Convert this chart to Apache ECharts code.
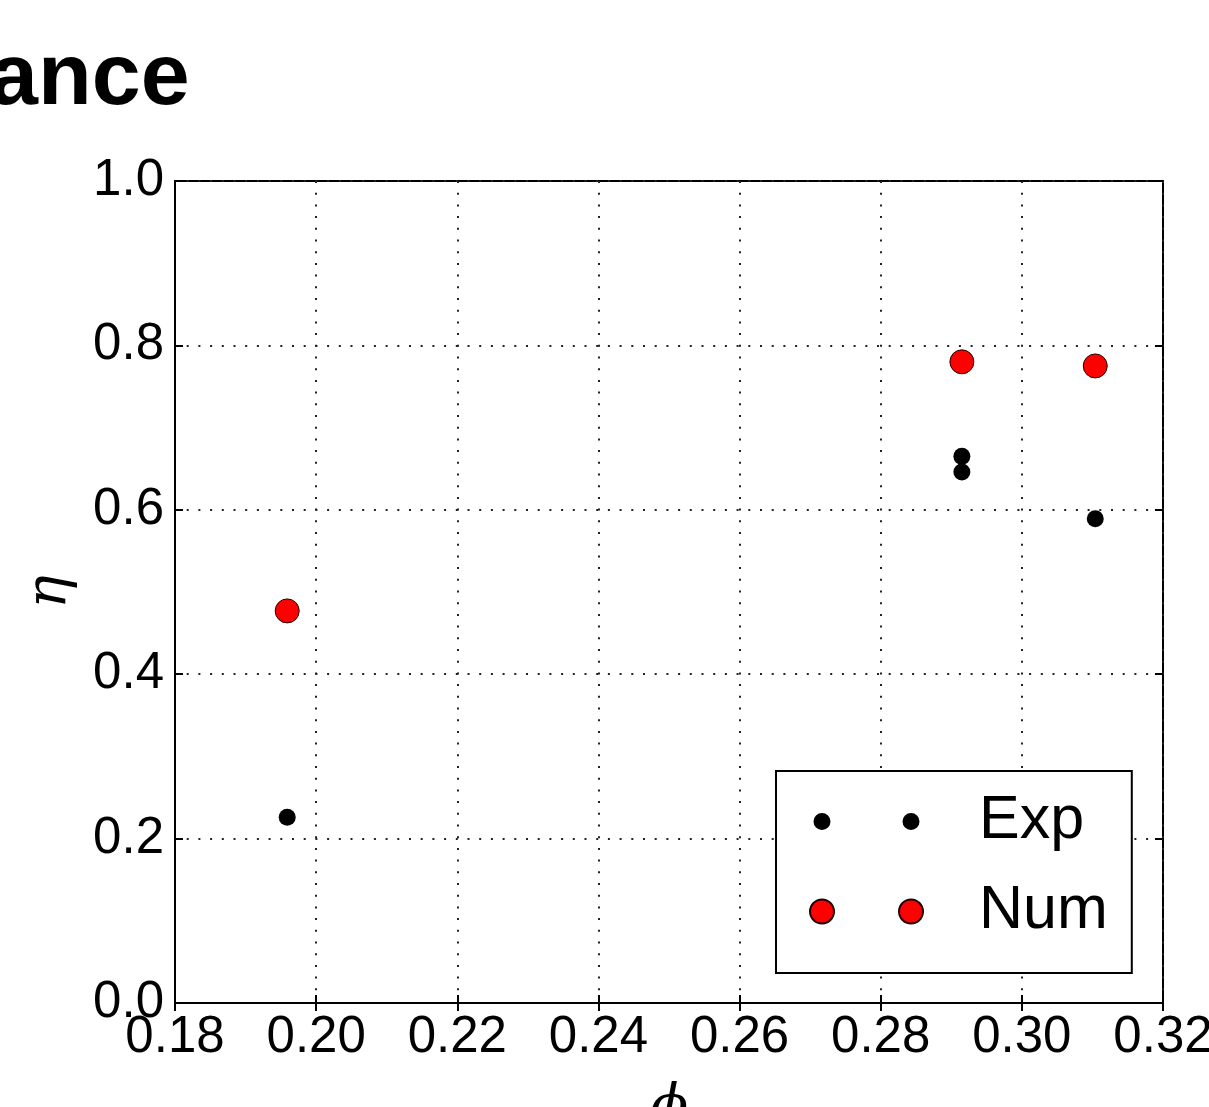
<!DOCTYPE html>
<html>
<head>
<meta charset="utf-8">
<script src="https://cdn.jsdelivr.net/npm/echarts@6/dist/echarts.min.js"></script>
<style>
  html, body { margin: 0; padding: 0; background: #fff; }
  #chart { width: 1209px; height: 1107px; }
</style>
</head>
<body>
<div id="chart"></div>
<script>
// Measured efficiency eta against volume fraction phi
const phiExp = [0.1959, 0.2915, 0.2915, 0.3104];
const etaExp = [0.226, 0.665, 0.646, 0.589];
// Simulated efficiency
const phiNum = [0.1959, 0.2915, 0.3104];
const etaNum = [0.477, 0.780, 0.775];

const xTicks = { min: 0.18, max: 0.32, step: 0.02 };
const yTicks = { min: 0.0, max: 1.0, step: 0.2 };

const seriesNames = ['Exp', 'Num'];
const titleText = 'ance';

const FONT = 'Liberation Sans, Arial, sans-serif';

function pairs(xs, ys) { return xs.map((x, i) => [x, ys[i]]); }

// legend icons: two markers per entry, bounding box padded to 164x24
const expIcon = 'path://M0,0M164,24M3.5,12a8.5,8.5 0 1,0 17,0a8.5,8.5 0 1,0 -17,0ZM92.5,12a8.5,8.5 0 1,0 17,0a8.5,8.5 0 1,0 -17,0Z';
const numIcon = 'path://M0,0M164,24M0,12a12,12 0 1,0 24,0a12,12 0 1,0 -24,0ZM89,12a12,12 0 1,0 24,0a12,12 0 1,0 -24,0Z';

const chart = echarts.init(document.getElementById('chart'), null, { renderer: 'canvas' });

const gridLine = { show: true, lineStyle: { color: '#222', width: 2, type: [2, 9.7] } };
const tickIn = { show: true, inside: true, length: 8, lineStyle: { color: '#000', width: 2 } };

chart.setOption({
  backgroundColor: '#fff',
  animation: false,
  graphic: [{
    type: 'text',
    left: -11,
    top: 36,
    style: {
      text: titleText,
      font: 'bold 88px ' + FONT,
      fill: '#000'
    }
  }],
  grid: {
    left: 175, top: 181, right: 46, bottom: 104,
    outerBoundsMode: 'none',
    containLabel: false,
    show: true, borderColor: '#000', borderWidth: 2, backgroundColor: 'transparent'
  },
  legend: {
    orient: 'vertical',
    left: 776, top: 771,
    padding: [20, 24, 31, 33],
    itemGap: 29,
    itemWidth: 164,
    itemHeight: 24,
    selectedMode: false,
    backgroundColor: '#fff',
    borderColor: '#000',
    borderWidth: 2,
    borderRadius: 0,
    textStyle: { fontFamily: FONT, fontSize: 61, lineHeight: 60, color: '#000', padding: 0 },
    data: [
      { name: seriesNames[0], icon: expIcon },
      { name: seriesNames[1], icon: numIcon }
    ]
  },
  xAxis: [{
    type: 'value',
    min: xTicks.min, max: xTicks.max, interval: xTicks.step,
    name: '\u03d5',
    nameLocation: 'middle',
    nameGap: 78,
    nameTextStyle: { fontFamily: 'DejaVu Serif', fontStyle: 'italic', fontSize: 56, color: '#000' },
    axisLine: { show: true, onZero: false, lineStyle: { color: '#000', width: 2 } },
    axisTick: tickIn,
    axisLabel: { margin: 9, fontFamily: FONT, fontSize: 51, color: '#000', formatter: v => v.toFixed(2) },
    splitLine: gridLine
  }, {
    type: 'value', position: 'top',
    min: xTicks.min, max: xTicks.max, interval: xTicks.step,
    axisLine: { show: false }, axisTick: tickIn, axisLabel: { show: false }, splitLine: { show: false }
  }],
  yAxis: [{
    type: 'value',
    min: yTicks.min, max: yTicks.max, interval: yTicks.step,
    name: '\u03b7',
    nameLocation: 'middle',
    nameRotate: 90,
    nameGap: 97,
    nameTextStyle: { fontFamily: 'DejaVu Serif', fontStyle: 'italic', fontSize: 56, color: '#000' },
    axisLine: { show: true, onZero: false, lineStyle: { color: '#000', width: 2 } },
    axisTick: tickIn,
    axisLabel: { margin: 11, fontFamily: FONT, fontSize: 51, color: '#000', formatter: v => v.toFixed(1) },
    splitLine: gridLine
  }, {
    type: 'value', position: 'right',
    min: yTicks.min, max: yTicks.max, interval: yTicks.step,
    axisLine: { show: false }, axisTick: tickIn, axisLabel: { show: false }, splitLine: { show: false }
  }],
  series: [{
    name: seriesNames[0],
    type: 'scatter',
    symbol: 'circle',
    symbolSize: 17,
    itemStyle: { color: '#000', borderColor: '#000', borderWidth: 0, opacity: 1 },
    emphasis: { disabled: true },
    data: pairs(phiExp, etaExp),
    z: 2
  }, {
    name: seriesNames[1],
    type: 'scatter',
    symbol: 'circle',
    symbolSize: 24,
    itemStyle: { color: '#ff0000', borderColor: '#200000', borderWidth: 1, opacity: 1 },
    emphasis: { disabled: true },
    data: pairs(phiNum, etaNum),
    z: 3
  }]
});
</script>
</body>
</html>
